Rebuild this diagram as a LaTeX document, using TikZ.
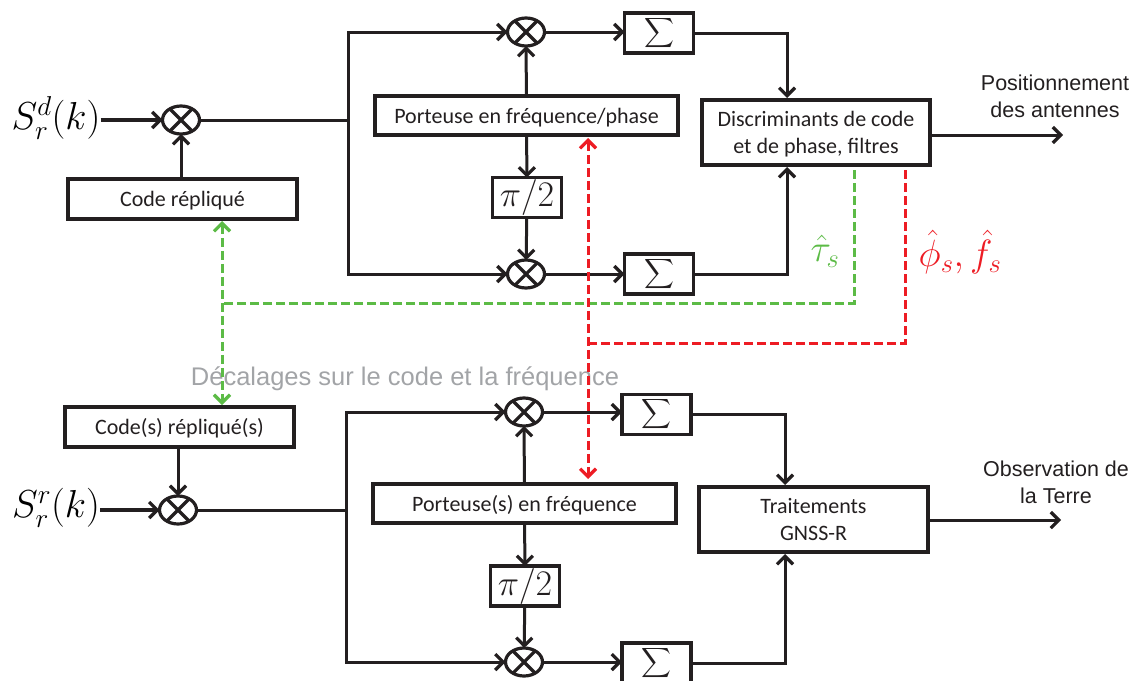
\documentclass[tikz,border=0pt]{standalone}
\usepackage{fix-cm}
\usepackage{amsmath}
\usepackage{fontspec}
\setmainfont{Liberation Sans}
\newfontfamily\boxfont{Carlito}
\usetikzlibrary{arrows.meta, shapes.geometric}
\definecolor{inkblack}{HTML}{231F20}
\definecolor{codegreen}{HTML}{5CBB46}
\definecolor{phasered}{HTML}{ED1C24}
\definecolor{notegray}{HTML}{A2A4A7}
\tikzset{
    >={Straight Barb[length=8pt, width=16pt, line width=3.2pt]},
    block/.style={draw=inkblack, line width=3.2pt, inner sep=0pt, outer sep=0pt, align=center, font=\boxfont\fontsize{22}{27}\selectfont, text=inkblack},
    oneline/.style={block, text height=15.5pt, text depth=0pt},
    smallblock/.style={block, minimum width=69pt, minimum height=40pt, font=\fontsize{36}{40}\selectfont},
    sumblock/.style={smallblock, font=\fontsize{22}{26}\selectfont},
    mixer/.style={draw=inkblack, line width=3.2pt, ellipse, minimum width=37pt, minimum height=28pt, inner sep=0pt, outer sep=0pt,
        path picture={\draw[inkblack, line width=3.2pt](path picture bounding box.center)+(-11, -11)--+(11, 11)(path picture bounding box.center)+(-11, 11)--+(11, -11);}},
    wire/.style={draw=inkblack, line width=3pt},
    inputwire/.style={wire, line width=4pt},
    feedback/.style={line width=3pt, dash pattern=on 9pt off 4pt},
    looplabel/.style={font=\fontsize{21.5}{27}\selectfont, align=center, text=inkblack}
}
\begin{document}
\begin{tikzpicture}[x=1pt, y=-1pt]
    \useasboundingbox(0, 0)rectangle(1139, 680);
    \node[notegray, font=\fontsize{25.5}{30}\selectfont](offsetnote)at(405, 379){Décalages sur le code et la fréquence};

    \node[font=\fontsize{39}{44}\selectfont, inner sep=0pt](inputd)at(56, 118){$S_r^d(k)$};
    \node[mixer](mixd)at(181, 120){};
    \node[oneline, minimum width=229pt, minimum height=40pt](coded)at(182.5, 199){Code répliqué};
    \node[mixer](mixdi)at(526, 32){};
    \node[mixer](mixdq)at(526, 274){};
    \node[oneline, minimum width=303pt, minimum height=39pt](carrierd)at(526.5, 115.5){Porteuse en fréquence/phase};
    \node[smallblock](shiftd)at(527, 197.5){$\pi/2$};
    \node[sumblock](sumdi)at(659, 33){$\displaystyle\sum$};
    \node[sumblock](sumdq)at(659, 274){$\displaystyle\sum$};
    \node[block, minimum width=228pt, minimum height=65pt, text depth=0pt](discr)at(816, 132.5){Discriminants de code\\et de phase, filtres};
    \node[looplabel](labeld)at(1055, 96){Positionnement\\des antennes};
    \node[codegreen, font=\fontsize{38}{42}\selectfont](labeltau)at(825, 251){$\hat{\tau}_s$};
    \node[phasered, font=\fontsize{38}{42}\selectfont](labelphi)at(960, 252){$\hat{\phi}_s,\hat{f}_s$};

    \node[font=\fontsize{39}{44}\selectfont, inner sep=0pt](inputr)at(56, 508){$S_r^r(k)$};
    \node[mixer](mixr)at(178, 510){};
    \node[oneline, minimum width=229pt, minimum height=40pt](coder)at(179.5, 427){Code(s) répliqué(s)};
    \node[mixer](mixri)at(524, 412){};
    \node[mixer](mixrq)at(524, 662){};
    \node[oneline, minimum width=303pt, minimum height=39pt](carrierr)at(524.5, 503.5){Porteuse(s) en fréquence};
    \node[smallblock](shiftr)at(525, 586){$\pi/2$};
    \node[sumblock](sumri)at(656.5, 414.5){$\displaystyle\sum$};
    \node[sumblock](sumrq)at(656.5, 663){$\displaystyle\sum$};
    \node[block, minimum width=229pt, minimum height=65pt](process)at(813.5, 519.5){Traitements\\GNSS-R};
    \node[looplabel](labelr)at(1056, 482.5){Observation de\\la Terre};

    \coordinate(busd)at(348, 120);
    \coordinate(busr)at(346, 510);
    \coordinate(discrtop)at(787, 98);
    \coordinate(discrbot)at(787, 167);
    \coordinate(processtop)at(785, 485);
    \coordinate(processbot)at(785, 554);
    \coordinate(outd)at(1063, 135);
    \coordinate(outr)at(1061, 520);
    \coordinate(greenstart)at(854, 170);
    \coordinate(greenend)at(222, 303);
    \coordinate(greentop)at(222, 221);
    \coordinate(greenbot)at(222, 405);
    \coordinate(redstart)at(905, 170);
    \coordinate(redend)at(588, 343);
    \coordinate(redtop)at(588, 138);
    \coordinate(redbot)at(588, 479);

    \draw[inputwire, ->](inputd.east|-mixd)--(mixd);
    \draw[wire, ->](coded.north-|mixd)--(mixd);
    \draw[wire](mixd)--(busd);
    \draw[wire, ->](busd)|-(mixdi);
    \draw[wire, ->](busd)|-(mixdq);
    \draw[wire, ->](carrierd)--(mixdi);
    \draw[wire, ->](carrierd)--(shiftd);
    \draw[wire, ->](shiftd)--(mixdq);
    \draw[wire, ->](mixdi)--(sumdi.west|-mixdi);
    \draw[wire, ->](mixdq)--(sumdq);
    \draw[wire, ->](sumdi)-|(discrtop);
    \draw[wire, ->](sumdq)-|(discrbot);
    \draw[wire, ->](discr.east|-outd)--(outd);

    \draw[inputwire, ->](inputr.east|-mixr)--(mixr);
    \draw[wire, ->](coder.south-|mixr)--(mixr);
    \draw[wire](mixr)--(busr);
    \draw[wire, ->](busr)|-(mixri);
    \draw[wire, ->](busr)|-(mixrq);
    \draw[wire, ->](carrierr)--(mixri);
    \draw[wire, ->](carrierr)--(shiftr);
    \draw[wire, ->](shiftr)--(mixrq);
    \draw[wire, ->](mixri)--(sumri.west|-mixri);
    \draw[wire, ->](mixrq)--(sumrq.west|-mixrq);
    \draw[wire, ->](sumri)-|(processtop);
    \draw[wire, ->](sumrq)-|(processbot);
    \draw[wire, ->](process.east|-outr)--(outr);

    \draw[feedback, codegreen](greenstart)|-(greenend);
    \draw[feedback, codegreen, <->](greentop)--(greenbot);
    \draw[feedback, phasered](redstart)|-(redend);
    \draw[feedback, phasered, <->](redtop)--(redbot);
\end{tikzpicture}
\end{document}
